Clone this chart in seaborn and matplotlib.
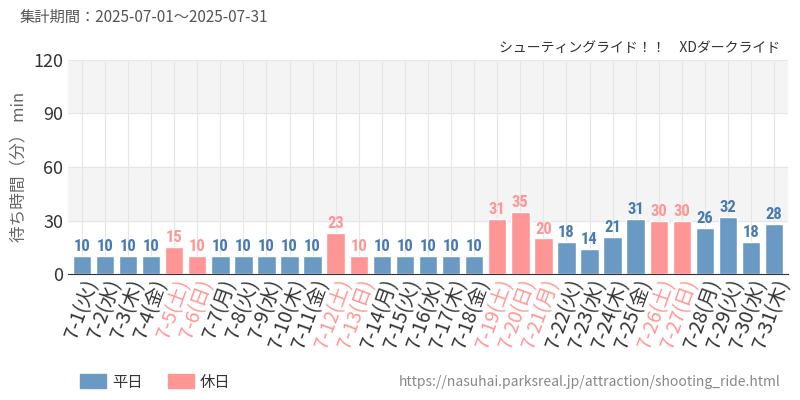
import matplotlib
matplotlib.use("Agg")
import matplotlib.pyplot as plt
import seaborn as sns
import pandas as pd

sns.set_style("white")
plt.rcParams['font.family'] = ['Noto Sans CJK JP', 'DejaVu Sans']

dates = [f"7-{d}" for d in range(1, 32)]
weekdays = ["火","水","木","金","土","日","月"]
labels = [f"{d}({weekdays[i % 7]})" for i, d in enumerate(dates)]
values = [10,10,10,10,15,10,10,10,10,10,10,23,10,10,10,10,10,10,31,35,20,18,14,21,31,30,30,26,32,18,28]
holiday = [False,False,False,False,True,True,False,False,False,False,False,True,True,False,False,False,False,False,True,True,True,False,False,False,False,True,True,False,False,False,False]

C_W = "#6a9ac4"
C_H = "#ff9696"
df = pd.DataFrame({"label": labels, "value": values,
                   "type": ["休日" if h else "平日" for h in holiday]})

fig = plt.figure(figsize=(8, 4), dpi=100)
ax = fig.add_axes([0.085, 0.315, 0.9, 0.535])
for lo, hi in [(30, 60), (90, 120)]:
    ax.axhspan(lo, hi, color="#f4f4f4", zorder=0)
sns.barplot(data=df, x="label", y="value", hue="type", palette={"平日": C_W, "休日": C_H},
            dodge=False, width=0.8, ax=ax, legend=False, zorder=2, saturation=1)
ax.set_ylim(0, 120)
ax.set_xlim(-0.6, 30.6)
ax.set_yticks([0, 30, 60, 90, 120])
ax.tick_params(axis='y', labelsize=13, colors="#333333", length=0)
ax.grid(axis='both', color="#e6e6e6", linewidth=0.8, zorder=1)
ax.set_axisbelow(True)
for s in ["top", "right", "left"]:
    ax.spines[s].set_visible(False)
ax.spines["bottom"].set_color("#333333")
ax.set_xlabel("")
ax.set_ylabel("待ち時間（分） min", fontsize=12, color="#666666")
ax.set_xticks(range(31))
ax.set_xticklabels(labels, rotation=70, ha="right", rotation_mode="anchor", fontsize=14)
ax.tick_params(axis='x', length=0, pad=2)
for t, h in zip(ax.get_xticklabels(), holiday):
    t.set_color(C_H if h else "#333333")
for i, (v, h) in enumerate(zip(values, holiday)):
    ax.text(i, v + 1, str(v), ha="center", va="bottom", fontsize=12, fontweight="bold",
            color=C_H if h else "#4a7ab0", family=["Roboto Condensed", "Noto Sans CJK JP", "DejaVu Sans"], zorder=3)

fig.text(0.025, 0.945, "集計期間：2025-07-01～2025-07-31", fontsize=11, color="#555555")
fig.text(0.975, 0.87, "シューティングライド！！　XDダークライド", fontsize=10, color="#333333", ha="right")
fig.patches.append(plt.Rectangle((0.1, 0.03), 0.032, 0.035, color=C_W, transform=fig.transFigure))
fig.text(0.14, 0.045, "平日", fontsize=11, color="#333333", va="center")
fig.patches.append(plt.Rectangle((0.21, 0.03), 0.032, 0.035, color=C_H, transform=fig.transFigure))
fig.text(0.25, 0.045, "休日", fontsize=11, color="#333333", va="center")
fig.text(0.975, 0.045, "https://nasuhai.parksreal.jp/attraction/shooting_ride.html", fontsize=10,
         color="#888888", ha="right", va="center")
fig.savefig("out.png", dpi=100)
